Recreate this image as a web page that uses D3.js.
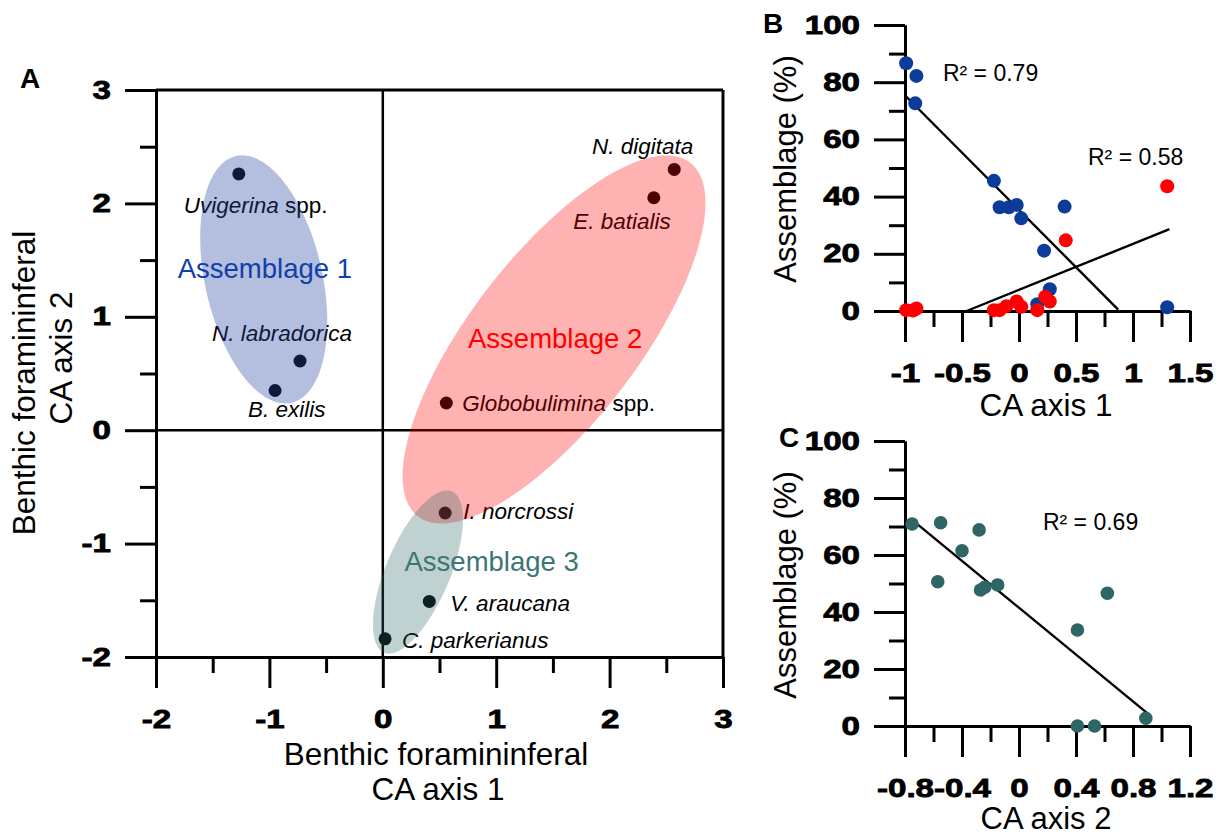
<!DOCTYPE html>
<html>
<head>
<meta charset="utf-8">
<script src="https://cdn.jsdelivr.net/npm/d3@7"></script>
<style>
  body { margin: 0; background: #fff; }
</style>
</head>
<body>
<script>

// ---- panel A: CA scores of species ----
var speciesItalic = ["Uvigerina", "N. labradorica", "B. exilis", "N. digitata", "E. batialis",
                     "Globobulimina", "I. norcrossi", "V. araucana", "C. parkerianus"];
var speciesSuffix = [" spp.", "", "", "", "", " spp.", "", "", ""];
var caAxis1 = [-1.27, -0.73, -0.95, 2.57, 2.39, 0.56, 0.55, 0.41, 0.02];
var caAxis2 = [2.26, 0.61, 0.35, 2.30, 2.05, 0.24, -0.73, -1.51, -1.84];

var assemblageNames = ["Assemblage 1", "Assemblage 2", "Assemblage 3"];
var ellipseCx = [-1.05, 1.51, 0.31];
var ellipseCy = [1.33, 0.80, -1.25];
var ellipseA = [1.115, 1.968, 0.771];   // semi-major, CA units
var ellipseB = [0.517, 0.738, 0.283];   // semi-minor
var ellipseTilt = [-12.6, 37.6, 22.8];  // degrees from vertical

var ticksA = [-2, -1, 0, 1, 2, 3];
var minorA = [-1.5, -0.5, 0.5, 1.5, 2.5];

// ---- panel B: assemblage % vs CA axis 1 ----
var b1X = [-0.99, -0.90, -0.91, -0.22, -0.17, -0.09, -0.02, 0.02, 0.40, 0.22, 0.27, 0.16, 1.30];
var b1Y = [86.6, 82.2, 72.6, 45.5, 36.3, 36.3, 37.1, 32.4, 36.5, 21.1, 7.6, 2.4, 1.3];
var b2X = [-0.99, -0.90, -0.93, -0.22, -0.17, -0.11, -0.02, 0.02, 0.16, 0.23, 0.27, 0.41, 1.30];
var b2Y = [0.3, 0.9, 0.2, 0.3, 0.3, 1.7, 3.3, 1.5, 0.3, 5.0, 3.3, 24.7, 43.6];
var fitB1X = [-0.99, 0.87], fitB1Y = [75, 0.5];
var fitB2X = [-0.46, 1.32], fitB2Y = [0, 28.6];
var r2B = ["R² = 0.79", "R² = 0.58"];

var ticksBx = [-1, -0.5, 0, 0.5, 1, 1.5];
var minorBx = [-0.75, -0.25, 0.25, 0.75, 1.25];
var ticksPct = [0, 20, 40, 60, 80, 100];
var minorPct = [10, 30, 50, 70, 90];

// ---- panel C: assemblage 3 % vs CA axis 2 ----
var c3X = [-0.75, -0.55, -0.28, -0.40, -0.57, -0.27, -0.24, -0.15, 0.62, 0.41, 0.41, 0.53, 0.89];
var c3Y = [70.9, 71.3, 68.8, 61.5, 50.6, 47.7, 48.7, 49.5, 46.6, 33.7, 0, 0, 2.7];
var fitC3X = [-0.75, 0.90], fitC3Y = [72.3, 4.5];
var r2C = "R² = 0.69";

var ticksCx = [-0.8, -0.4, 0, 0.4, 0.8, 1.2];
var minorCx = [-0.6, -0.2, 0.2, 0.6, 1.0];

// colours
var blue = "#0b3c9c", red = "#ff0000", teal = "#2e6565";
var ellipseFill = ["rgb(40,70,160)", "rgb(255,0,0)", "rgb(48,104,104)"];
var ellipseOpacity = [0.35, 0.3, 0.3];
var assemblageColor = ["#1040a8", "#ff0000", "#3b7674"];

var FONT = "'Liberation Sans', Arial, Helvetica, sans-serif";
var TICK_STRETCH = 1.3;

var svg = d3.select("body").append("svg")
  .attr("width", 1222).attr("height", 838)
  .style("font-family", FONT);

function fmt(d) { return String(d); }

// draws labelled major ticks + short minor ticks, bold stretched labels
function drawAxes(g, x, y, xMajor, xMinor, yMajor, yMinor) {
  var major = 31, minor = 16, pad = 14;
  var bottom = y.range()[0], left = x.range()[0];

  var ax = g.append("g").attr("transform", "translate(0," + bottom + ")");
  ax.call(d3.axisBottom(x).tickValues(xMajor).tickSize(major).tickSizeOuter(0)
           .tickPadding(22).tickFormat(fmt));
  ax.append("g").call(d3.axisBottom(x).tickValues(xMinor).tickSize(minor).tickSizeOuter(0).tickFormat(""));

  var ay = g.append("g").attr("transform", "translate(" + left + ",0)");
  ay.call(d3.axisLeft(y).tickValues(yMajor).tickSize(major).tickSizeOuter(0).tickFormat(fmt));
  ay.append("g").call(d3.axisLeft(y).tickValues(yMinor).tickSize(minor).tickSizeOuter(0).tickFormat(""));

  [ax, ay].forEach(function(a) {
    a.attr("font-family", null).attr("font-size", null);
    a.selectAll("path, line").attr("stroke", "#000").attr("stroke-width", 3);
    a.selectAll("text")
      .attr("font-family", FONT).attr("font-size", 25.5).attr("font-weight", "bold")
      .attr("fill", "#000").attr("stroke", "#000").attr("stroke-width", 0.8)
      .attr("transform", "scale(" + TICK_STRETCH + ",1)");
  });
  ay.selectAll("text").attr("x", -(major + pad) / TICK_STRETCH);
}

function panelLabel(txt, x, y) {
  svg.append("text").attr("x", x).attr("y", y)
    .attr("font-size", 28).attr("font-weight", "bold").text(txt);
}

// ================= Panel A =================
var xA = d3.scaleLinear().domain([-2, 3]).range([156, 723]);
var yA = d3.scaleLinear().domain([-2, 3]).range([657, 90]);
var gA = svg.append("g");

drawAxes(gA, xA, yA, ticksA, minorA, ticksA, minorA);

// frame + zero lines
gA.append("line").attr("x1", xA(-2)).attr("x2", xA(3)).attr("y1", yA(3)).attr("y2", yA(3))
  .attr("stroke", "#000").attr("stroke-width", 3);
gA.append("line").attr("x1", xA(3)).attr("x2", xA(3)).attr("y1", yA(3)).attr("y2", yA(-2))
  .attr("stroke", "#000").attr("stroke-width", 3);
gA.append("line").attr("x1", xA(0)).attr("x2", xA(0)).attr("y1", yA(3)).attr("y2", yA(-2))
  .attr("stroke", "#000").attr("stroke-width", 2.5);
gA.append("line").attr("x1", xA(-2)).attr("x2", xA(3)).attr("y1", yA(0)).attr("y2", yA(0))
  .attr("stroke", "#000").attr("stroke-width", 2.5);

// species points and names
var labelLayout = [[-55, 39, "start"], [52, -20, "end"], [-27, 26, "start"], [19, -15, "end"],
                   [17, 31, "end"], [16, 8, "start"], [18, 6, "start"], [21, 10, "start"], [17, 9, "start"]];

gA.selectAll("circle.sp").data(caAxis1).enter().append("circle")
  .attr("class", "sp")
  .attr("cx", function(d) { return xA(d); })
  .attr("cy", function(d, i) { return yA(caAxis2[i]); })
  .attr("r", 6.5).attr("fill", "#000");

var spText = gA.selectAll("text.sp").data(speciesItalic).enter().append("text")
  .attr("class", "sp")
  .attr("x", function(d, i) { return xA(caAxis1[i]) + labelLayout[i][0]; })
  .attr("y", function(d, i) { return yA(caAxis2[i]) + labelLayout[i][1]; })
  .attr("text-anchor", function(d, i) { return labelLayout[i][2]; })
  .attr("font-size", 22.5);
spText.append("tspan").attr("font-style", "italic").text(function(d) { return d; });
spText.append("tspan").text(function(d, i) { return speciesSuffix[i]; });

// assemblage ellipses (drawn over points, semi transparent)
var ellipseLine = d3.line()
  .x(function(p) { return xA(p[0]); })
  .y(function(p) { return yA(p[1]); })
  .curve(d3.curveLinearClosed);

assemblageNames.forEach(function(name, i) {
  var th = ellipseTilt[i] * Math.PI / 180;
  var ux = Math.sin(th), uy = Math.cos(th), vx = Math.cos(th), vy = -Math.sin(th);
  var pts = d3.range(0, 360, 2).map(function(deg) {
    var t = deg * Math.PI / 180;
    var a = ellipseA[i] * Math.cos(t), b = ellipseB[i] * Math.sin(t);
    return [ellipseCx[i] + a * ux + b * vx, ellipseCy[i] + a * uy + b * vy];
  });
  gA.append("path").attr("d", ellipseLine(pts))
    .attr("fill", ellipseFill[i]).attr("fill-opacity", ellipseOpacity[i]);
});

var assemblageAt = [[-1.04, 1.43], [1.52, 0.81], [0.96, -1.16]];
gA.selectAll("text.asm").data(assemblageNames).enter().append("text")
  .attr("class", "asm")
  .attr("x", function(d, i) { return xA(assemblageAt[i][0]); })
  .attr("y", function(d, i) { return yA(assemblageAt[i][1]); })
  .attr("dy", "0.35em")
  .attr("text-anchor", "middle")
  .attr("font-size", 27.5)
  .attr("fill", function(d, i) { return assemblageColor[i]; })
  .text(function(d) { return d; });

// axis titles
gA.append("text").attr("x", 436).attr("y", 765).attr("text-anchor", "middle")
  .attr("font-size", 31.5).text("Benthic foramininferal");
gA.append("text").attr("x", 438).attr("y", 800).attr("text-anchor", "middle")
  .attr("font-size", 31.5).text("CA axis 1");
gA.append("text").attr("transform", "translate(35,383) rotate(-90)").attr("text-anchor", "middle")
  .attr("font-size", 31.5).text("Benthic foramininferal");
gA.append("text").attr("transform", "translate(72,358) rotate(-90)").attr("text-anchor", "middle")
  .attr("font-size", 31.5).text("CA axis 2");

panelLabel("A", 20, 88);

// ================= Panel B =================
var xB = d3.scaleLinear().domain([-1, 1.5]).range([905, 1190]);
var yB = d3.scaleLinear().domain([0, 100]).range([311, 25]);
var gB = svg.append("g");
drawAxes(gB, xB, yB, ticksBx, minorBx, ticksPct, minorPct);

var lineB = d3.line().x(function(d) { return xB(d[0]); }).y(function(d) { return yB(d[1]); });
gB.append("path").attr("d", lineB(d3.zip(fitB1X, fitB1Y)))
  .attr("stroke", "#000").attr("stroke-width", 2.4).attr("fill", "none");
gB.append("path").attr("d", lineB(d3.zip(fitB2X, fitB2Y)))
  .attr("stroke", "#000").attr("stroke-width", 2.4).attr("fill", "none");

gB.selectAll("circle.b1").data(b1X).enter().append("circle").attr("class", "b1")
  .attr("cx", function(d) { return xB(d); })
  .attr("cy", function(d, i) { return yB(b1Y[i]); })
  .attr("r", 7).attr("fill", blue);
gB.selectAll("circle.b2").data(b2X).enter().append("circle").attr("class", "b2")
  .attr("cx", function(d) { return xB(d); })
  .attr("cy", function(d, i) { return yB(b2Y[i]); })
  .attr("r", 7).attr("fill", red);

var r2AtB = [[-0.667, 83.2], [0.605, 53.8]];
gB.selectAll("text.r2").data(r2B).enter().append("text").attr("class", "r2")
  .attr("x", function(d, i) { return xB(r2AtB[i][0]); })
  .attr("y", function(d, i) { return yB(r2AtB[i][1]); })
  .attr("dy", "0.35em").attr("font-size", 23).text(function(d) { return d; });

gB.append("text").attr("x", 1046).attr("y", 416).attr("text-anchor", "middle")
  .attr("font-size", 31.5).text("CA axis 1");
gB.append("text").attr("transform", "translate(796,169) rotate(-90)").attr("text-anchor", "middle")
  .attr("font-size", 31).text("Assemblage (%)");
panelLabel("B", 763, 33);

// ================= Panel C =================
var xC = d3.scaleLinear().domain([-0.8, 1.2]).range([905, 1190]);
var yC = d3.scaleLinear().domain([0, 100]).range([726, 441]);
var gC = svg.append("g");
drawAxes(gC, xC, yC, ticksCx, minorCx, ticksPct, minorPct);

var lineC = d3.line().x(function(d) { return xC(d[0]); }).y(function(d) { return yC(d[1]); });
gC.append("path").attr("d", lineC(d3.zip(fitC3X, fitC3Y)))
  .attr("stroke", "#000").attr("stroke-width", 2.4).attr("fill", "none");

gC.selectAll("circle.c3").data(c3X).enter().append("circle").attr("class", "c3")
  .attr("cx", function(d) { return xC(d); })
  .attr("cy", function(d, i) { return yC(c3Y[i]); })
  .attr("r", 6.8).attr("fill", teal);

gC.append("text").attr("x", xC(0.168)).attr("y", yC(71.7)).attr("dy", "0.35em")
  .attr("font-size", 23).text(r2C);

gC.append("text").attr("x", 1046).attr("y", 829).attr("text-anchor", "middle")
  .attr("font-size", 31).text("CA axis 2");
gC.append("text").attr("transform", "translate(796,585) rotate(-90)").attr("text-anchor", "middle")
  .attr("font-size", 31).text("Assemblage (%)");
panelLabel("C", 779, 447);

</script>
</body>
</html>
